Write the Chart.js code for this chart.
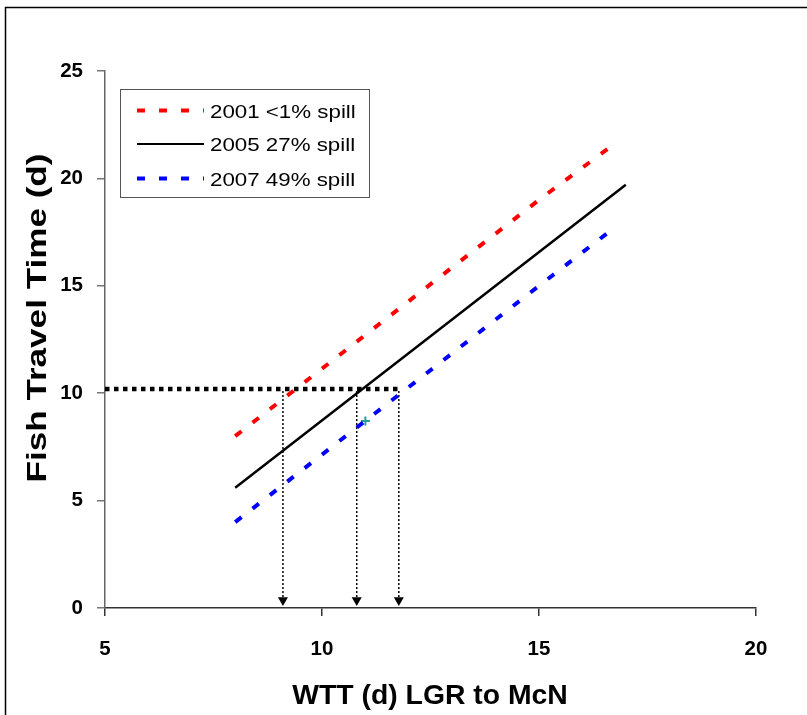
<!DOCTYPE html>
<html><head><meta charset="utf-8">
<script src="https://cdn.jsdelivr.net/npm/chart.js@4.4.1/dist/chart.umd.min.js"></script>
<style>html,body{margin:0;padding:0;background:#fff}#wrap{width:807px;height:715px;position:relative}</style>
</head><body><div id="wrap"><canvas id="c" width="807" height="715"></canvas></div>
<script>
// ---- data ----
const xTicks = [5, 10, 15, 20];
const yTicks = [0, 5, 10, 15, 20, 25];
const seriesLabels = ['2001 <1% spill', '2005 27% spill', '2007 49% spill'];
const x2001 = [8, 15, 16.8];
const y2001 = [8, 19, 21.7];
const x2005 = [8, 17];
const y2005 = [5.6, 19.7];
const x2007 = [8, 15, 16.8];
const y2007 = [4, 15, 17.8];
const refLevel = 10.2;          // fish travel time read-off level
const refStartX = 5;
const refX = [9.1, 10.8, 11.77]; // WTT read-offs
const arrowY = 0.36;
const obsX = [11.0];
const obsY = [8.7];
const xTitle = 'WTT (d) LGR to McN';
const yTitle = 'Fish Travel Time (d)';

const FONT = '"Liberation Sans", Arial, sans-serif';
const pts = (xs, ys) => xs.map((x, i) => ({x, y: ys[i]}));

const datasets = [
  {label: seriesLabels[0], data: pts(x2001, y2001), borderColor: '#ff0000', borderWidth: 4, borderDash: [8, 14], pointRadius: 0, showLine: true, legendKey: true},
  {label: seriesLabels[1], data: pts(x2005, y2005), borderColor: '#000000', borderWidth: 2.5, pointRadius: 0, showLine: true, legendKey: true},
  {label: seriesLabels[2], data: pts(x2007, y2007), borderColor: '#0000ff', borderWidth: 4, borderDash: [8, 14], pointRadius: 0, showLine: true, legendKey: true},
  {label: 'ref', data: [{x: refStartX, y: refLevel}, {x: refX[refX.length - 1], y: refLevel}], borderColor: '#000', borderWidth: 4.5, borderDash: [4.5, 4.5], pointRadius: 0, showLine: true}
];
refX.forEach(x => {
  datasets.push({label: 'arrow', data: [{x, y: refLevel - 0.1}, {x, y: arrowY}], borderColor: '#000', borderWidth: 1.5, borderDash: [2, 2],
    showLine: true, pointRadius: [0, 5.8], pointStyle: 'triangle', rotation: 180, pointBackgroundColor: '#000', pointBorderColor: '#000', pointBorderWidth: 0});
});
datasets.push({label: 'obs', data: pts(obsX, obsY), showLine: false, pointStyle: 'cross', pointRadius: 4.5, borderColor: '#2a9a9a', pointBorderColor: '#2a9a9a', pointBorderWidth: 2});

const framePlugin = {
  id: 'frame',
  afterDraw(chart) {
    const ctx = chart.ctx;
    ctx.save();
    // outer frame (left and top)
    ctx.strokeStyle = '#000'; ctx.lineWidth = 1.5; ctx.setLineDash([]);
    ctx.beginPath(); ctx.moveTo(5.5, 715); ctx.lineTo(5.5, 7.5); ctx.lineTo(807, 7.5); ctx.stroke();
    // axis titles
    ctx.fillStyle = '#000';
    ctx.font = 'bold 27px ' + FONT;
    ctx.textAlign = 'center'; ctx.textBaseline = 'alphabetic';
    ctx.save();
    ctx.translate(430, 703.5); ctx.scale(1.05, 1);
    ctx.fillText(xTitle, 0, 0);
    ctx.restore();
    ctx.save();
    ctx.translate(46, 318); ctx.rotate(-Math.PI / 2); ctx.scale(1.3, 1);
    ctx.fillText(yTitle, 0, 0);
    ctx.restore();
    ctx.restore();
    // legend
    ctx.save();
    ctx.strokeStyle = '#555'; ctx.lineWidth = 1; ctx.setLineDash([]);
    ctx.strokeRect(120.5, 89.5, 249, 108);
    const rows = [110.5, 144, 178.5];
    const lds = chart.data.datasets.filter(d => d.legendKey);
    lds.forEach((d, i) => {
      ctx.beginPath();
      ctx.strokeStyle = d.borderColor;
      ctx.lineWidth = d.borderWidth === 4 ? 4 : 2;
      ctx.setLineDash(d.borderDash || []);
      ctx.moveTo(137, rows[i]); ctx.lineTo(204, rows[i]);
      ctx.stroke();
      ctx.setLineDash([]);
      ctx.fillStyle = '#000';
      ctx.font = '18.6px ' + FONT;
      ctx.textAlign = 'left'; ctx.textBaseline = 'alphabetic';
      ctx.save();
      ctx.translate(210, rows[i] + 7); ctx.scale(1.2, 1);
      ctx.fillText(d.label, 0, 0);
      ctx.restore();
    });
    ctx.restore();
  }
};

new Chart(document.getElementById('c'), {
  type: 'scatter',
  data: {datasets},
  options: {
    responsive: false, animation: false, devicePixelRatio: 1,
    layout: {padding: {left: 0, top: 71, right: 51, bottom: 0}},
    plugins: {legend: {display: false}, tooltip: {enabled: false}},
    scales: {
      x: {
        type: 'linear', min: 5, max: 20,
        afterBuildTicks: s => { s.ticks = xTicks.map(v => ({value: v})); },
        afterFit: s => { s.height = 107; },
        grid: {display: true, drawOnChartArea: false, drawTicks: true, tickLength: 8, color: '#333', lineWidth: 1.5},
        border: {display: true, color: '#333', width: 1.5},
        ticks: {color: '#000', padding: 21, font: {family: FONT, size: 20.5, weight: 'bold'}}
      },
      y: {
        type: 'linear', min: 0, max: 25,
        afterBuildTicks: s => { s.ticks = yTicks.map(v => ({value: v})); },
        afterFit: s => { s.width = 105; },
        grid: {display: true, drawOnChartArea: false, drawTicks: true, tickLength: 8, color: '#777', lineWidth: 1.5},
        border: {display: true, color: '#666', width: 1.5},
        ticks: {color: '#000', padding: 14, font: {family: FONT, size: 20.5, weight: 'bold'}}
      }
    }
  },
  plugins: [framePlugin]
});
</script>
</body></html>
